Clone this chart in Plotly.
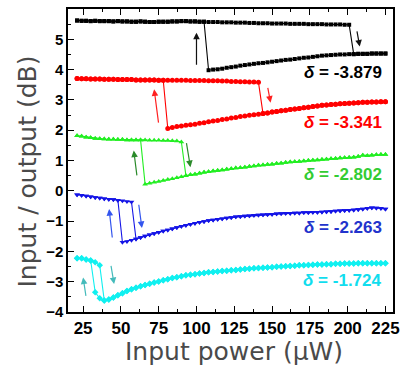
import plotly.graph_objects as go

# Input power grid (µW)
power = [21, 24, 27, 30, 33, 36, 39, 42, 45, 48, 51, 54, 57, 60, 63, 66, 69, 72, 75, 78,
         81, 84, 87, 90, 93, 96, 99, 102, 105, 108, 111, 114, 117, 120, 123, 126, 129, 132, 135, 138,
         141, 144, 147, 150, 153, 156, 159, 162, 165, 168, 171, 174, 177, 180, 183, 186, 189, 192, 195, 198,
         201, 204, 207, 210, 213, 216, 219, 222, 225]

deltas = ["-3.879", "-3.341", "-2.802", "-2.263", "-1.724"]

# upper branches start at power[0]; lower branches end at power[-1]
black_upper = [5.62, 5.61, 5.61, 5.60, 5.61, 5.60, 5.60, 5.60, 5.59, 5.60,
               5.59, 5.59, 5.58, 5.58, 5.59, 5.58, 5.57, 5.57, 5.58, 5.58,
               5.58, 5.59, 5.59, 5.60, 5.60, 5.59, 5.59, 5.58, 5.58, 5.57,
               5.57, 5.57, 5.56, 5.56, 5.56, 5.55, 5.55, 5.55, 5.54, 5.54,
               5.53, 5.53, 5.53, 5.52, 5.52, 5.52, 5.52, 5.51, 5.51, 5.51,
               5.51, 5.50, 5.50, 5.50, 5.50, 5.49, 5.49, 5.49, 5.49, 5.48, 5.48]
black_lower = [3.98, 4.00, 4.01, 4.03, 4.06, 4.08, 4.10, 4.13, 4.15, 4.17,
               4.19, 4.21, 4.22, 4.24, 4.26, 4.28, 4.30, 4.32, 4.33, 4.35,
               4.37, 4.39, 4.40, 4.42, 4.44, 4.46, 4.47, 4.48, 4.49, 4.50,
               4.50, 4.51, 4.51, 4.52, 4.52, 4.52, 4.53, 4.53, 4.53, 4.53]

red_upper = [3.71, 3.70, 3.70, 3.69, 3.69, 3.69, 3.68, 3.68, 3.68, 3.67,
             3.67, 3.67, 3.67, 3.66, 3.66, 3.66, 3.66, 3.66, 3.65, 3.65,
             3.65, 3.65, 3.65, 3.65, 3.65, 3.64, 3.64, 3.64, 3.64, 3.63,
             3.63, 3.63, 3.62, 3.62, 3.61, 3.61, 3.60, 3.60, 3.59, 3.59, 3.58]
red_lower = [2.06, 2.09, 2.12, 2.14, 2.16, 2.18, 2.20, 2.23, 2.25, 2.28,
             2.30, 2.32, 2.35, 2.37, 2.40, 2.42, 2.45, 2.47, 2.49, 2.51,
             2.53, 2.55, 2.57, 2.60, 2.62, 2.64, 2.66, 2.68, 2.70, 2.72,
             2.74, 2.76, 2.78, 2.80, 2.82, 2.83, 2.85, 2.86, 2.87, 2.88,
             2.89, 2.90, 2.91, 2.92, 2.92, 2.93, 2.93, 2.94, 2.94]

green_upper = [1.82, 1.80, 1.77, 1.75, 1.73, 1.72, 1.71, 1.70, 1.70, 1.69,
               1.69, 1.68, 1.68, 1.68, 1.68, 1.68, 1.67, 1.67, 1.67, 1.66,
               1.66, 1.65, 1.64, 1.61]
green_lower = [0.22, 0.25, 0.28, 0.31, 0.34, 0.37, 0.40, 0.43, 0.46, 0.50,
               0.53, 0.55, 0.58, 0.61, 0.63, 0.65, 0.67, 0.69, 0.71, 0.73,
               0.75, 0.76, 0.78, 0.80, 0.82, 0.84, 0.85, 0.87, 0.88, 0.90,
               0.91, 0.93, 0.95, 0.96, 0.97, 0.98, 1.00, 1.01, 1.02, 1.03,
               1.04, 1.06, 1.07, 1.08, 1.09, 1.10, 1.11, 1.13, 1.17, 1.16,
               1.17, 1.19, 1.20, 1.20]

blue_upper = [-0.13, -0.15, -0.17, -0.20, -0.22, -0.24, -0.26, -0.28, -0.29, -0.31,
              -0.33, -0.35, -0.37]
blue_lower = [-1.70, -1.67, -1.63, -1.59, -1.54, -1.49, -1.45, -1.41, -1.37, -1.33,
              -1.29, -1.25, -1.21, -1.17, -1.14, -1.10, -1.07, -1.04, -1.01, -0.98,
              -0.96, -0.94, -0.92, -0.90, -0.88, -0.86, -0.85, -0.83, -0.82, -0.81,
              -0.80, -0.79, -0.78, -0.77, -0.76, -0.75, -0.74, -0.74, -0.73, -0.73,
              -0.72, -0.72, -0.71, -0.71, -0.70, -0.69, -0.68, -0.67, -0.66, -0.65,
              -0.64, -0.63, -0.62, -0.60, -0.58, -0.56, -0.57, -0.58, -0.60]

cyan_upper = [-2.23, -2.23, -2.27, -2.30, -2.36, -2.46]
cyan_lower = [-3.35, -3.55, -3.62, -3.59, -3.52, -3.45, -3.38, -3.31, -3.25, -3.20,
              -3.15, -3.11, -3.07, -3.03, -2.99, -2.95, -2.92, -2.88, -2.85, -2.82,
              -2.79, -2.77, -2.75, -2.73, -2.71, -2.69, -2.68, -2.66, -2.65, -2.64,
              -2.62, -2.61, -2.60, -2.58, -2.57, -2.56, -2.55, -2.54, -2.53, -2.52,
              -2.51, -2.50, -2.49, -2.48, -2.47, -2.46, -2.46, -2.45, -2.44, -2.43,
              -2.43, -2.42, -2.42, -2.41, -2.41, -2.40, -2.40, -2.40, -2.39, -2.39,
              -2.39, -2.39, -2.39, -2.39, -2.39]

label_y = [3.91, 2.25, 0.55, -1.21, -2.97]

# arrows: (x_tail, y_tail, x_head, y_head)
arrows_up = [(100, 4.11, 100, 5.22), (75, 2.20, 72, 3.35), (60.7, 0.46, 58.5, 1.33),
             (44.4, -1.59, 42.2, -0.60), (27, -3.52, 25, -2.86)]
arrows_down = [(206, 5.31, 208, 4.76), (147, 3.45, 149, 2.91), (93.2, 1.62, 96, 0.78),
               (61.7, -0.41, 63.9, -1.23), (43.3, -2.43, 45.5, -3.08)]

uppers = [black_upper, red_upper, green_upper, blue_upper, cyan_upper]
lowers = [black_lower, red_lower, green_lower, blue_lower, cyan_lower]
line_colors = ["#000000", "#FF0000", "#22EE22", "#1414E6", "#10F0F0"]
label_colors = ["#000000", "#FF0000", "#33CC33", "#2233CC", "#11DDEE"]
arrow_colors = ["#111111", "#FF2020", "#2A8A2A", "#3355EE", "#44BBBB"]
symbols = ["square", "circle", "triangle-up", "triangle-down", "diamond"]
msizes = [4, 5, 5, 5, 5]

n = len(power)
fig = go.Figure()
for up, lo, col, sym, ms in zip(uppers, lowers, line_colors, symbols, msizes):
    kd = len(up) - 1
    ku = n - len(lo)
    xf = power[:kd + 1] + power[kd + 1:]
    yf = up[:kd + 1] + lo[kd + 1 - ku:]
    xb = power[ku:][::-1] + power[:ku][::-1]
    yb = lo[::-1] + up[:ku][::-1]
    fig.add_trace(go.Scatter(x=xf + xb, y=yf + yb, mode="lines+markers",
                             line=dict(color=col, width=1.1),
                             marker=dict(symbol=sym, size=ms, color=col),
                             showlegend=False, hoverinfo="skip"))

ann = []
for d, ly, lc in zip(deltas, label_y, label_colors):
    ann.append(dict(x=224, y=ly, xref="x", yref="y", text="<b><i>δ</i> = " + d + "</b>",
                    showarrow=False, xanchor="right", yanchor="middle",
                    font=dict(family="Liberation Sans, Arial", size=17, color=lc)))
for arr, ac in zip(arrows_up + arrows_down, arrow_colors + arrow_colors):
    ann.append(dict(x=arr[2], y=arr[3], ax=arr[0], ay=arr[1], xref="x", yref="y",
                    axref="x", ayref="y", text="", showarrow=True, arrowhead=2,
                    arrowsize=1.1, arrowwidth=1.2, arrowcolor=ac))

title_font = dict(family="DejaVu Sans", size=25, color="#4a4a4a")
ann.append(dict(text="Input power (μW)", x=237 / 407, y=352 / 367, xref="paper", yref="paper",
                xanchor="center", yanchor="middle", showarrow=False, font=title_font))
ann.append(dict(text="Input / output (dB)", x=27 / 407, y=1 - 171 / 367, xref="paper", yref="paper",
                xanchor="center", yanchor="middle", showarrow=False, textangle=-90, font=title_font))
# convert paper coords for titles relative to plot area
L, R, T, B = 68, 9, 7, 55
pw, ph = 407 - L - R, 367 - T - B
ann[-2].update(x=(237 - L) / pw, y=(367 - B - 352) / ph)
ann[-1].update(x=(27 - L) / pw, y=(367 - B - 171) / ph)

fig.update_layout(
    width=407, height=367,
    margin=dict(l=L, r=R, t=T, b=B),
    plot_bgcolor="white", paper_bgcolor="white",
    annotations=ann,
    xaxis=dict(range=[15, 230], tickvals=[25, 50, 75, 100, 125, 150, 175, 200, 225],
               ticks="inside", ticklen=6, tickwidth=1.2, tickcolor="black",
               showline=True, linecolor="black", linewidth=1.5, mirror="ticks",
               showgrid=False, zeroline=False,
               minor=dict(dtick=12.5, tick0=0, ticks="inside", ticklen=3, tickcolor="black", showgrid=False),
               tickfont=dict(family="Liberation Sans, Arial", size=17, color="black", weight="bold")),
    yaxis=dict(range=[-4, 6], tickvals=[-4, -3, -2, -1, 0, 1, 2, 3, 4, 5],
               ticks="inside", ticklen=6, tickwidth=1.2, tickcolor="black",
               showline=True, linecolor="black", linewidth=1.5, mirror=True,
               showgrid=False, zeroline=False,
               minor=dict(dtick=0.5, tick0=0, ticks="inside", ticklen=3, tickcolor="black", showgrid=False),
               tickfont=dict(family="Liberation Sans, Arial", size=15, color="black", weight="bold")),
)

fig.write_html("out.html")
